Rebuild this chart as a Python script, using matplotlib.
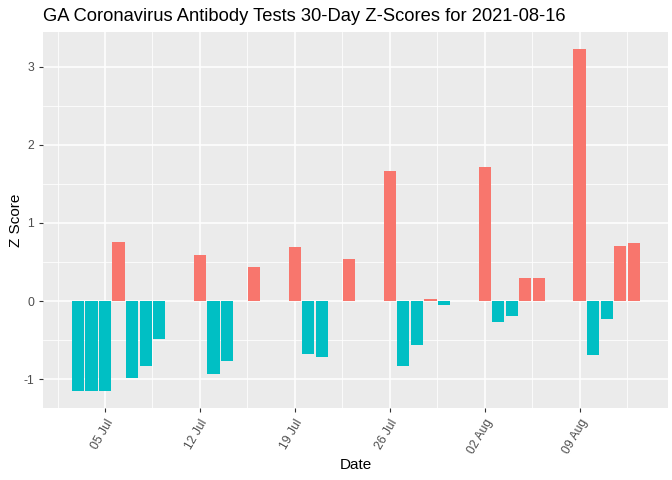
import pandas as pd
import matplotlib.pyplot as plt
import matplotlib.dates as mdates

plt.rcParams['font.family'] = ['Liberation Sans', 'DejaVu Sans']
plt.rcParams['axes.unicode_minus'] = False

# report days (some days have no report)
dates = ['2021-07-03', '2021-07-04', '2021-07-05', '2021-07-06', '2021-07-07', '2021-07-08', '2021-07-09',
         '2021-07-12', '2021-07-13', '2021-07-14', '2021-07-16',
         '2021-07-19', '2021-07-20', '2021-07-21', '2021-07-23',
         '2021-07-26', '2021-07-27', '2021-07-28', '2021-07-29', '2021-07-30',
         '2021-08-02', '2021-08-03', '2021-08-04', '2021-08-05', '2021-08-06',
         '2021-08-09', '2021-08-10', '2021-08-11', '2021-08-12', '2021-08-13']
zscores = [-1.15, -1.15, -1.15, 0.76, -0.99, -0.83, -0.49,
           0.59, -0.94, -0.77, 0.44,
           0.69, -0.68, -0.72, 0.54,
           1.67, -0.83, -0.56, 0.03, -0.05,
           1.72, -0.27, -0.19, 0.30, 0.30,
           3.23, -0.69, -0.23, 0.71, 0.74]
tick_dates = ['2021-07-05', '2021-07-12', '2021-07-19', '2021-07-26', '2021-08-02', '2021-08-09']
minor_dates = ['2021-07-01 12:00', '2021-07-08 12:00', '2021-07-15 12:00', '2021-07-22 12:00',
               '2021-07-29 12:00', '2021-08-05 12:00', '2021-08-12 12:00']

data = pd.DataFrame({'Date': pd.to_datetime(dates), 'Z': zscores})
colors = ['#F8766D' if z > 0 else '#00BFC4' for z in data['Z']]

fig = plt.figure(figsize=(6.72, 4.8), dpi=100)
ax = fig.add_axes([0.0645, 0.15, 0.93, 0.784])
ax.set_facecolor('#EBEBEB')

ax.bar(data['Date'], data['Z'], width=0.9, color=colors, zorder=3)

# x limits with ggplot-style 5% padding
xmin = mdates.date2num(data['Date'].min()) - 0.45
xmax = mdates.date2num(data['Date'].max()) + 0.45
pad = (xmax - xmin) * 0.05
ax.set_xlim(xmin - pad, xmax + pad)
ymin, ymax = min(zscores), max(zscores)
ypad = (ymax - ymin) * 0.05
ax.set_ylim(ymin - ypad, ymax + ypad)

ticks = pd.to_datetime(tick_dates)
ax.set_xticks(ticks)
ax.set_xticklabels([t.strftime('%d %b') for t in ticks], rotation=60, ha='right',
                   rotation_mode='anchor', fontsize=8.7, color='#4D4D4D')
ax.set_xticks(pd.to_datetime(minor_dates), minor=True)
ax.set_yticks([-1, 0, 1, 2, 3])
ax.set_yticks([-0.5, 0.5, 1.5, 2.5], minor=True)
ax.tick_params(axis='y', labelsize=8.7, labelcolor='#4D4D4D')
ax.tick_params(which='major', length=3, color='#333333', width=0.8)
ax.tick_params(which='minor', length=0)

ax.grid(which='major', color='white', linewidth=1.1, zorder=0)
ax.grid(which='minor', color='white', linewidth=0.55, zorder=0)
ax.set_axisbelow(True)
for s in ax.spines.values():
    s.set_visible(False)

ax.set_xlabel('Date', fontsize=11)
ax.set_ylabel('Z Score', fontsize=11)
ax.yaxis.set_label_coords(-0.033, 0.5)
ax.xaxis.set_label_coords(0.5, -0.134)
fig.text(0.0645, 0.965, 'GA Coronavirus Antibody Tests 30-Day Z-Scores for 2021-08-16',
         fontsize=13.2, va='center', ha='left')

plt.savefig('out.png', dpi=100)
